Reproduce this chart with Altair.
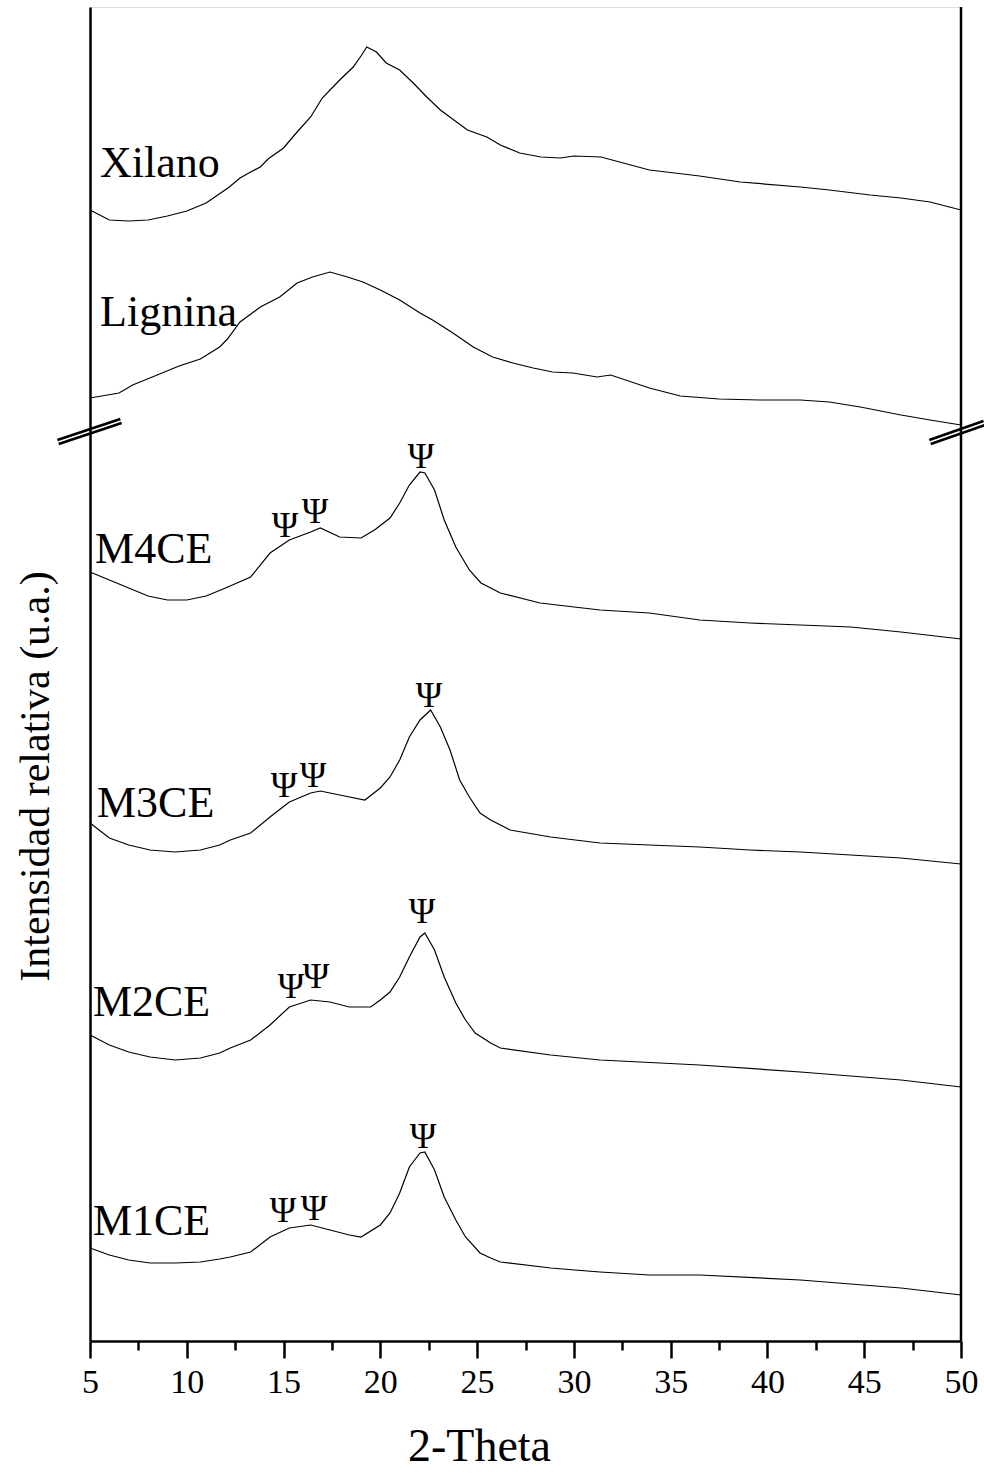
import altair as alt
import pandas as pd

FONT = "Liberation Serif"

# ---- data (2-Theta vs relative intensity, arbitrary units) ----
xilano_x = [5.0, 6.0, 7.0, 8.0, 9.0, 10.0, 11.0, 11.6, 12.2, 12.75, 13.3, 13.8, 14.2, 15.0,
            15.7, 16.4, 17.0, 17.9, 18.6, 19.0, 19.3, 19.8, 20.3, 21.0, 21.7, 22.4, 23.1, 23.8,
            24.5, 25.5, 26.2, 27.2, 28.3, 29.3, 30.0, 31.4, 33.9, 36.5, 38.6, 41.7, 43.2, 45.3,
            46.9, 48.4, 50.0]
xilano_y = [1131, 1121, 1120, 1121, 1125, 1130, 1138, 1146, 1154, 1163, 1169, 1174, 1182, 1193,
            1209, 1224, 1243, 1261, 1274, 1285, 1294, 1289, 1278, 1271, 1258, 1244, 1231, 1221,
            1211, 1204, 1196, 1188, 1184, 1183, 1185, 1184, 1171, 1165, 1159, 1154, 1151, 1146,
            1143, 1139, 1131]

lignina_x = [5.0, 6.5, 7.2, 8.6, 9.6, 10.7, 11.7, 12.1, 12.75, 13.8, 14.8, 15.7, 16.5, 17.4,
             18.3, 19.1, 20.0, 21.0, 22.05, 22.7, 23.75, 24.8, 25.8, 26.85, 27.9, 28.9, 29.95,
             31.2, 31.9, 33.9, 35.5, 37.5, 39.6, 41.7, 43.2, 44.8, 46.9, 48.4, 50.0]
lignina_y = [943, 948, 956, 967, 975, 982, 994, 1002, 1019, 1034, 1044, 1058, 1064, 1069,
             1064, 1059, 1051, 1041, 1028, 1021, 1008, 994, 984, 978, 973, 969, 968,
             964, 966, 953, 945, 942, 941, 941, 939, 934, 926, 921, 916]

m4ce_x = [5.0, 6.0, 7.0, 8.0, 9.0, 10.0, 11.0, 12.0, 13.3, 14.3, 15.3, 16.4, 16.9, 17.9, 19.0,
          19.7, 20.5, 21.0, 21.5, 22.05, 22.3, 22.8, 23.3, 23.9, 24.6, 25.2, 26.2, 28.25, 31.35,
          33.9, 36.5, 39.1, 41.7, 44.3, 46.9, 50.0]
m4ce_y = [769, 761, 753, 745, 741, 741, 745, 753, 764, 788, 801, 809, 813, 804, 803,
          811, 823, 838, 856, 869, 868, 851, 821, 794, 771, 758, 748, 738, 731,
          728, 721, 718, 716, 714, 709, 702]

m3ce_x = [5.0, 6.0, 7.0, 8.1, 9.4, 10.7, 11.7, 12.25, 13.3, 14.3, 15.3, 16.4, 16.9, 17.9, 19.2,
          20.0, 20.5, 21.0, 21.5, 22.05, 22.6, 23.1, 23.6, 24.1, 24.6, 25.15, 25.7, 26.7, 28.8,
          31.35, 33.9, 36.5, 39.1, 41.7, 44.3, 46.9, 50.0]
m3ce_y = [518, 503, 496, 491, 489, 491, 496, 501, 508, 524, 539, 548, 550, 546, 541,
          553, 564, 581, 604, 621, 631, 614, 591, 561, 544, 528, 521, 511, 504,
          498, 496, 494, 491, 489, 486, 483, 477]

m2ce_x = [5.0, 6.0, 7.0, 8.1, 9.4, 10.7, 11.7, 12.25, 13.3, 14.3, 15.3, 16.4, 17.4, 18.4, 19.5,
          20.0, 20.5, 21.0, 21.5, 22.05, 22.3, 22.8, 23.3, 23.9, 24.4, 24.9, 25.7, 26.2, 28.8,
          31.35, 36.5, 41.7, 46.9, 50.0]
m2ce_y = [306, 296, 289, 284, 281, 283, 288, 293, 301, 316, 334, 341, 339, 334, 334,
          341, 349, 364, 384, 404, 408, 391, 364, 338, 321, 308, 298, 293, 286,
          281, 276, 269, 261, 254]

m1ce_x = [5.0, 6.0, 7.0, 8.1, 9.4, 10.7, 11.7, 12.25, 13.3, 14.3, 15.3, 16.4, 17.4, 18.4, 19.0,
          20.0, 20.5, 21.0, 21.5, 22.05, 22.3, 22.8, 23.3, 23.9, 24.4, 25.15, 25.7, 26.2, 28.8,
          31.35, 33.9, 36.5, 41.7, 46.9, 50.0]
m1ce_y = [93, 86, 81, 78, 78, 79, 82, 84, 89, 104, 113, 116, 111, 106, 104,
          116, 128, 148, 174, 188, 189, 171, 144, 121, 104, 88, 83, 79, 73,
          69, 66, 66, 61, 53, 46]

# sample labels
label_text = ["Xilano", "Lignina", "M4CE", "M3CE", "M2CE", "M1CE"]
label_x = [5.52, 5.52, 5.26, 5.36, 5.15, 5.15]
label_y = [1164, 1015, 778, 524, 325, 106]

# cellulose peak markers (Ψ)
psi_x = [15.07, 16.62, 22.10, 15.02, 16.52, 22.51, 15.38, 16.68, 22.15, 14.97, 16.57, 22.20]
psi_y = [804, 818, 873, 544, 554, 634, 343, 353, 418, 119, 121, 193]

# axis-break marks
break_id = ["L", "L", "R", "R"]
break_x = [3.35, 6.6, 48.4, 51.2]
break_y = [899, 920, 899, 918]

all_ticks = [5, 7.5, 10, 12.5, 15, 17.5, 20, 22.5, 25, 27.5, 30, 32.5, 35, 37.5,
             40, 42.5, 45, 47.5, 50]

# ---- tables ----
series = [("Xilano", xilano_x, xilano_y), ("Lignina", lignina_x, lignina_y),
          ("M4CE", m4ce_x, m4ce_y), ("M3CE", m3ce_x, m3ce_y),
          ("M2CE", m2ce_x, m2ce_y), ("M1CE", m1ce_x, m1ce_y)]
rows = []
for name, xs, ys in series:
    for a, b in zip(xs, ys):
        rows.append({"series": name, "x": a, "y": b})
lines_df = pd.DataFrame(rows)
labels_df = pd.DataFrame({"label": label_text, "x": label_x, "y": label_y})
psi_df = pd.DataFrame({"label": ["Ψ"] * len(psi_x), "x": psi_x, "y": psi_y})
break_df = pd.DataFrame({"id": break_id, "x": break_x, "y": break_y})
edge_df = pd.DataFrame({"x": [50]})

xscale = alt.Scale(domain=[5, 50], nice=False, zero=False)
yscale = alt.Scale(domain=[0, 1334], nice=False, zero=False)

x_axis = alt.Axis(
    title="2-Theta", values=all_ticks, grid=False,
    tickSize={"condition": {"test": "datum.value % 5 === 0", "value": 17}, "value": 9},
    tickWidth=2.5, tickColor="black", domainColor="black", domainWidth=2.5,
    labelExpr="datum.value % 5 === 0 ? datum.label : ''",
    labelFont=FONT, labelFontSize=34, labelColor="black", labelPadding=7,
    labelFlush=False, labelOverlap=False, format="d",
    titleFont=FONT, titleFontSize=46, titleFontWeight="normal", titleColor="black",
    titleX=389, titleY=119, titleAlign="center", titleBaseline="alphabetic",
    zindex=1,
)
y_axis = alt.Axis(
    title="Intensidad relativa (u.a.)", ticks=False, labels=False, grid=False,
    domainColor="black", domainWidth=2.5,
    titleFont=FONT, titleFontSize=42, titleFontWeight="normal", titleColor="black",
    titleAngle=270, titleX=-42, titleY=769, titleAlign="center", titleBaseline="alphabetic",
    zindex=1,
)

X = alt.X("x:Q", scale=xscale, axis=x_axis)
Y = alt.Y("y:Q", scale=yscale, axis=y_axis)

lines = alt.Chart(lines_df).mark_line(color="black", strokeWidth=1.2).encode(
    x=X, y=Y, detail="series:N", order="x:Q")

brk_black = alt.Chart(break_df).mark_line(color="black", strokeWidth=7, clip=False).encode(
    x=alt.X("x:Q", scale=xscale), y=alt.Y("y:Q", scale=yscale), detail="id:N")
brk_white = alt.Chart(break_df).mark_line(color="white", strokeWidth=1.6, clip=False).encode(
    x=alt.X("x:Q", scale=xscale), y=alt.Y("y:Q", scale=yscale), detail="id:N")

edge = alt.Chart(edge_df).mark_rule(color="black", strokeWidth=2.5).encode(
    x=alt.X("x:Q", scale=xscale))

labels = alt.Chart(labels_df).mark_text(
    font=FONT, fontSize=44, align="left", baseline="alphabetic", color="black"
).encode(x=alt.X("x:Q", scale=xscale), y=alt.Y("y:Q", scale=yscale), text="label:N")

psi = alt.Chart(psi_df).mark_text(
    font=FONT, fontSize=36, align="center", baseline="alphabetic", color="black"
).encode(x=alt.X("x:Q", scale=xscale), y=alt.Y("y:Q", scale=yscale), text="label:N")

chart = alt.layer(lines, brk_black, brk_white, edge, labels, psi).properties(
    width=871, height=1334,
    autosize=alt.AutoSizeParams(type="none"),
    padding={"left": 90, "top": 7, "right": 23, "bottom": 134},
    background="white",
).configure_view(stroke="black", strokeWidth=2.5).configure(font=FONT)

chart.save("out.html", embed_options={"renderer": "svg", "actions": False})
